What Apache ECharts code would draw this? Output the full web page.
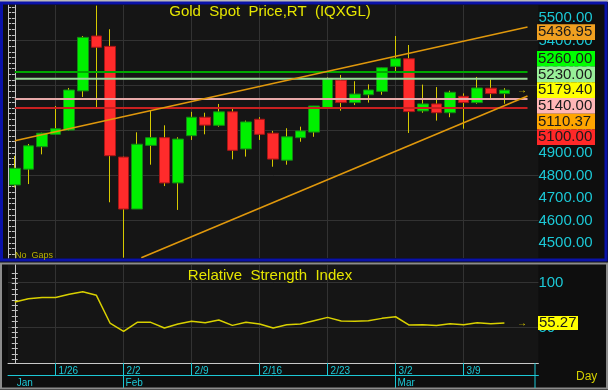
<!DOCTYPE html>
<html><head><meta charset="utf-8">
<script src="https://cdn.jsdelivr.net/npm/echarts@6/dist/echarts.min.js"></script>
<style>html,body{margin:0;padding:0;background:#0e0e0e;}#c{width:608px;height:390px;}</style>
</head><body><div id="c"></div>
<script>
// ---------- data ----------
const dates = ['1/21','1/22','1/23','1/26','1/27','1/28','1/29','1/30','2/2','2/3','2/4','2/5','2/6','2/9','2/10','2/11','2/12','2/13','2/16','2/17','2/18','2/19','2/20','2/23','2/24','2/25','2/26','2/27','3/2','3/3','3/4','3/5','3/6','3/9','3/10','3/11','3/12'];
const opens  = [4758,4828,4928,4983,5002,5176,5420,5374,4882,4651,4934,4968,4767,4977,5059,5023,5083,4918,5050,4988,4868,4968,4993,5099,5224,5124,5159,5174,5285,5319,5087,5118,5079,5152,5124,5188,5164];
const closes = [4832,4932,4988,5008,5180,5414,5370,4888,4651,4939,4968,4767,4962,5059,5024,5083,4912,5038,4983,4873,4972,4998,5109,5229,5124,5162,5180,5279,5319,5084,5118,5079,5170,5124,5189,5164,5179.4];
const lows   = [4747,4762,4894,4983,5000,5149,5097,4681,4435,4651,4848,4753,4647,4958,4983,5017,4872,4884,4958,4839,4848,4950,4972,5099,5088,5113,5124,5159,5260,4989,5079,5044,5059,5008,5119,5144,5119];
const highs  = [4887,4940,4990,5109,5189,5420,5555,5450,4884,4992,5091,5023,4970,5083,5079,5118,5097,5044,5059,4998,5010,5017,5109,5236,5247,5219,5205,5279,5420,5380,5204,5193,5177,5165,5238,5228,5188];
const rsi    = [78.6,82.2,83.7,83.7,87.1,90.0,86.0,55.2,46.0,56.0,56.0,49.7,54.1,57.1,55.6,58.6,52.6,56.0,54.1,49.7,53.3,54.1,57.8,61.5,57.4,57.1,57.8,60.4,62.2,53.0,53.3,52.6,54.4,53.3,55.6,54.4,55.27];
const weekTicks   = ['1/26','2/2','2/9','2/16','2/23','3/2','3/9'];
const monthStarts = ['1/21','2/2','3/2'];
const monthNames  = ['Jan','Feb','Mar'];
const priceLabels = [4500,4600,4700,4800,4900,5000,5100,5200,5300,5400,5500];
const priceGrid   = [4600,4800,5000,5200,5400];
const rsiLabels   = [50,100];
const levels      = [5260,5230,5140,5100];
const levelSpan   = [0,37.7];
const upperTrend  = [[0,4954.55],[37.7,5459.7]];
const lowerTrend  = [[9.3,4434.9],[37.7,5153.4]];
const lastPrice = 5179.40, upperValue = 5436.95, lowerValue = 5110.37, lastRsi = 55.27;

// ---------- styling ----------
const FONT = '"Liberation Sans", Arial, sans-serif';
const CYAN = '#1cc8d6';
const YEL = '#e6e600';
const GRIDC = '#323232';
const AXC = '#c8c8c8';
const priceMin = 4433.33, priceMax = 5557.78;
const rsiMin = 10.8, rsiMax = 119.7;
const slots = dates.concat(['','']);
const mondayIdx = weekTicks.map(w => dates.indexOf(w));
const monthIdx = monthStarts.map(m => dates.indexOf(m));
const minorPrice = []; for (let v = 4450; v <= 5550; v += 25) minorPrice.push(v);
const minorRsi = []; for (let v = 15; v <= 115; v += 6) minorRsi.push(v);
const levelColors = ['#00a800','#98d898','#e6a8a8','#c82020'];

const chart = echarts.init(document.getElementById('c'), null, {renderer:'canvas'});

const tickAxis = (grid, pos, min, max, minor) => ({
  type:'value', gridIndex:grid, position:pos, min, max, offset: pos==='right' ? -4 : 0,
  axisLine:{show:true, lineStyle:{color:AXC, width:1}},
  axisTick:{show:true, inside:true, length:3, customValues:minor, lineStyle:{color:AXC}},
  axisLabel:{show:false}, splitLine:{show:false}
});

const option = {
  backgroundColor:'#0e0e0e',
  animation:false,
  grid:[
    {left:8, top:5, width:530.4, height:253, show:true, backgroundColor:'#151515', borderWidth:0},
    {left:8, top:265, width:530.4, height:98, show:true, backgroundColor:'#151515', borderWidth:0}
  ],
  xAxis:[
    {type:'category', gridIndex:0, data:slots, boundaryGap:true, show:false},
    {type:'value', gridIndex:0, min:-0.5, max:38.5, axisLine:{show:false}, axisLabel:{show:false},
     axisTick:{show:false, customValues:mondayIdx}, splitLine:{show:true, lineStyle:{color:GRIDC, width:1}}},
    {type:'value', gridIndex:1, min:-0.5, max:38.5, position:'bottom',
     axisLine:{show:true, lineStyle:{color:AXC, width:1}},
     axisTick:{show:true, customValues:mondayIdx, length:12, lineStyle:{color:CYAN, width:1}},
     axisLabel:{show:true, customValues:mondayIdx, formatter:v => dates[v], color:CYAN, fontSize:10, fontFamily:FONT, align:'left', padding:[0,0,0,3], margin:3},
     splitLine:{show:true, lineStyle:{color:GRIDC, width:1}}},
    {type:'value', gridIndex:1, min:-0.5, max:38.5, position:'bottom', offset:12,
     axisLine:{show:true, lineStyle:{color:CYAN, width:1}},
     axisTick:{show:true, customValues:monthIdx.slice(1), length:14, lineStyle:{color:CYAN, width:1}},
     axisLabel:{show:true, customValues:monthIdx, formatter:v => monthNames[monthIdx.indexOf(v)], color:CYAN, fontSize:10, fontFamily:FONT, align:'left', padding:[0,0,0,2], margin:3},
     splitLine:{show:false}}
  ],
  yAxis:[
    {type:'value', gridIndex:0, position:'right', offset:-4, min:priceMin, max:priceMax,
     axisLine:{show:true, lineStyle:{color:AXC, width:1}},
     axisTick:{show:true, inside:true, length:3, customValues:minorPrice, lineStyle:{color:AXC}},
     axisLabel:{show:true, customValues:priceLabels, formatter:v => v.toFixed(2), color:CYAN, fontSize:15, fontFamily:FONT, margin:4},
     splitLine:{show:false}},
    tickAxis(0,'left',priceMin,priceMax,minorPrice),
    {type:'value', gridIndex:0, position:'left', min:priceMin, max:priceMax, axisLine:{show:false}, axisLabel:{show:false},
     axisTick:{show:false, customValues:priceGrid}, splitLine:{show:true, lineStyle:{color:GRIDC, width:1}}},
    {type:'value', gridIndex:1, position:'right', offset:-4, min:rsiMin, max:rsiMax,
     axisLine:{show:true, lineStyle:{color:AXC, width:1}},
     axisTick:{show:true, inside:true, length:3, customValues:minorRsi, lineStyle:{color:AXC}},
     axisLabel:{show:true, customValues:rsiLabels, formatter:v => String(v), color:CYAN, fontSize:15, fontFamily:FONT, margin:4},
     splitLine:{show:false}},
    tickAxis(1,'left',rsiMin,rsiMax,minorRsi),
    {type:'value', gridIndex:1, position:'left', min:rsiMin, max:rsiMax, axisLine:{show:false}, axisLabel:{show:false},
     axisTick:{show:false, customValues:rsiLabels}, splitLine:{show:true, lineStyle:{color:GRIDC, width:1}}}
  ],
  series:[
    {type:'candlestick', xAxisIndex:0, yAxisIndex:0, barWidth:1, z:2,
     data: dates.map((d,i) => [opens[i], closes[i], lows[i], highs[i]]),
     itemStyle:{color:'#d6ca00', color0:'#d6ca00', borderColor:'#d6ca00', borderColor0:'#d6ca00', borderWidth:1}},
    {type:'candlestick', xAxisIndex:0, yAxisIndex:0, barWidth:11, z:3,
     data: dates.map((d,i) => [opens[i], closes[i], Math.min(opens[i],closes[i]), Math.max(opens[i],closes[i])]),
     itemStyle:{color:'#00f000', color0:'#ff2b2b', borderColor:'#138a13', borderColor0:'#a81616', borderWidth:1}},
    ...levels.map((lv,k) => ({type:'line', xAxisIndex:1, yAxisIndex:0, z:4, symbol:'none', silent:true,
      data: levelSpan.map(x => [x, lv]), lineStyle:{color:levelColors[k], width:2}})),
    {type:'line', xAxisIndex:1, yAxisIndex:0, z:5, symbol:'none', data:upperTrend, lineStyle:{color:'#e0980c', width:1.6}},
    {type:'line', xAxisIndex:1, yAxisIndex:0, z:5, symbol:'none', data:lowerTrend, lineStyle:{color:'#e0980c', width:1.6}},
    {type:'line', xAxisIndex:2, yAxisIndex:3, z:4, symbol:'none', data: rsi.map((v,i) => [i, v]), lineStyle:{color:'#d8d000', width:1.5}}
  ]
};
chart.setOption(option);

// ---------- overlay labels ----------
const py = v => chart.convertToPixel({yAxisIndex:0}, v);
const ry = v => chart.convertToPixel({yAxisIndex:3}, v);
const arrowX = chart.convertToPixel({xAxisIndex:1}, 37.3);
const g = [];
const boxX = 537, boxW = 58, boxH = 15.7;
function box(cy, txt, fill, w) {
  g.push({type:'rect', z:100, shape:{x:boxX, y:cy - boxH/2, width:w || boxW, height:boxH}, style:{fill}});
  g.push({type:'text', z:101, x:boxX + 1, y:cy, style:{text:txt, fill:'#1a1a1a', font:'15px ' + FONT, textVerticalAlign:'middle', textAlign:'left'}});
}
box(py(upperValue), upperValue.toFixed(2), '#f0a020');
const stack = [
  {v:5260, c:'#00ff00'}, {v:5230, c:'#98ee98'}, {v:lastPrice, c:'#ffff00'},
  {v:5140, c:'#ffb6b6'}, {v:lowerValue, c:'#ffa500'}, {v:5100, c:'#ff2828'}
];
const anchorY = py(lastPrice);
stack.forEach((s,k) => box(anchorY + (k - 2) * boxH, s.v.toFixed(2), s.c));
// RSI value box
const rY = ry(lastRsi);
g.push({type:'rect', z:100, shape:{x:538, y:rY - 7, width:40, height:14}, style:{fill:'#ffff00'}});
g.push({type:'text', z:101, x:539, y:rY, style:{text:lastRsi.toFixed(2), fill:'#1a1a1a', font:'15px ' + FONT, textVerticalAlign:'middle'}});
// arrows
[anchorY, rY].forEach(y => g.push({type:'text', z:101, x:arrowX, y:y, style:{text:'\u2192', fill:'#e0d000', font:'bold 10px ' + FONT, textVerticalAlign:'middle', textAlign:'center'}}));
// titles
g.push({type:'text', z:101, x:270, y:4, style:{text:'Gold  Spot  Price,RT  (IQXGL)', fill:YEL, font:'15px ' + FONT, textAlign:'center', textVerticalAlign:'top'}});
g.push({type:'text', z:101, x:270, y:268, style:{text:'Relative  Strength  Index', fill:YEL, font:'15px ' + FONT, textAlign:'center', textVerticalAlign:'top'}});
g.push({type:'text', z:101, x:15, y:251, style:{text:'No  Gaps', fill:'#b8b000', font:'9px ' + FONT, textVerticalAlign:'top'}});
g.push({type:'text', z:101, x:576, y:371, style:{text:'Day', fill:'#d4d000', font:'12px ' + FONT, textVerticalAlign:'top'}});
// frames
g.push({type:'rect', z:90, shape:{x:0, y:0, width:608, height:2}, style:{fill:'#b8b8b8'}});
g.push({type:'rect', z:90, shape:{x:1.5, y:3, width:604.5, height:257}, style:{fill:'none', stroke:'#0a12a8', lineWidth:3}});
g.push({type:'rect', z:90, shape:{x:1, y:263.5, width:606, height:125}, style:{fill:'none', stroke:'#8c8c8c', lineWidth:2}});
g.push({type:'line', z:90, shape:{x1:535, y1:363, x2:535, y2:388}, style:{stroke:CYAN, lineWidth:1}});
chart.setOption({graphic: g});
</script></body></html>
